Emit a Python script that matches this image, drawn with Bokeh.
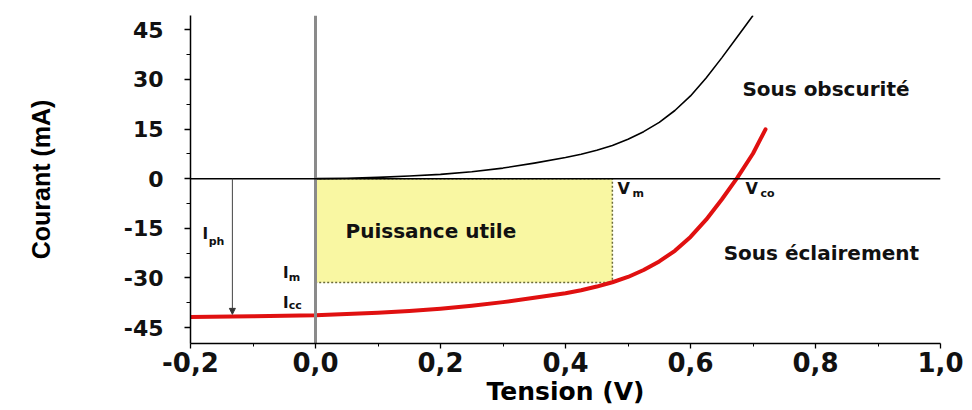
from bokeh.plotting import figure
from bokeh.models import Range1d, FixedTicker, Span, Label, Arrow, NormalHead
from bokeh.embed import file_html
from bokeh.resources import INLINE

# ---- data ----
dark_v = [0.0, 0.05, 0.1, 0.15, 0.2, 0.25, 0.3, 0.35, 0.4, 0.425, 0.45, 0.475, 0.5, 0.525,
          0.55, 0.575, 0.6, 0.625, 0.65, 0.675, 0.7]
dark_i = [0.0, 0.15, 0.4, 0.8, 1.3, 2.1, 3.2, 4.7, 6.4, 7.4, 8.6, 10.0, 11.9, 14.2,
          17.0, 20.6, 25.0, 30.4, 36.5, 42.9, 49.3]

light_v = [-0.2, -0.1, 0.0, 0.05, 0.1, 0.15, 0.2, 0.25, 0.3, 0.35, 0.4, 0.425, 0.45, 0.475,
           0.5, 0.525, 0.55, 0.575, 0.6, 0.625, 0.65, 0.675, 0.7, 0.72]
light_i = [-41.8, -41.6, -41.3, -40.9, -40.5, -40.0, -39.3, -38.4, -37.3, -36.0, -34.6, -33.7,
           -32.6, -31.3, -29.7, -27.6, -25.0, -21.8, -17.6, -12.4, -6.3, 0.3, 7.6, 14.9]

v_m = 0.475      # tension au point de puissance max
i_m = -31.4      # courant au point de puissance max
i_ph = -41.0     # photocourant (fleche)
v_arrow = -0.133

x_ticks = [-0.2, 0.0, 0.2, 0.4, 0.6, 0.8, 1.0]
x_tick_labels = ["-0,2", "0,0", "0,2", "0,4", "0,6", "0,8", "1,0"]
x_minor = [-0.1, 0.1, 0.3, 0.5, 0.7, 0.9]
y_ticks = [-45, -30, -15, 0, 15, 30, 45]
y_tick_labels = ["-45", "-30", "-15", "0", "15", "30", "45"]
y_minor = [-37.5, -22.5, -7.5, 7.5, 22.5, 37.5]

FONT = "DejaVu Sans"

p = figure(width=972, height=410, output_backend="svg", toolbar_location=None,
           x_range=Range1d(-0.2, 1.0), y_range=Range1d(-49.8, 49.3),
           min_border_left=190, min_border_right=32, min_border_top=15, min_border_bottom=67)
p.outline_line_color = None
p.xgrid.visible = False
p.ygrid.visible = False
p.background_fill_color = "white"
p.border_fill_color = "white"

# yellow useful-power rectangle
p.quad(left=0, right=v_m, top=0, bottom=i_m, fill_color="#f9f7a2", line_color="#6b6b3a",
       line_width=1.5, line_dash="2 2")

# gray vertical at V=0 (over the rectangle)
p.add_layout(Span(location=0, dimension="height", line_color="#8a8a8a", line_width=3, level="glyph"))
# horizontal zero line
p.add_layout(Span(location=0, dimension="width", line_color="black", line_width=1.5, level="glyph"))

# curves
p.line(dark_v, dark_i, line_color="black", line_width=1.6, line_join="round")
p.line(light_v, light_i, line_color="#e01010", line_width=4, line_cap="round", line_join="round")

# Iph arrow
p.add_layout(Arrow(end=NormalHead(size=6, fill_color="#333333", line_color="#333333"),
                   x_start=v_arrow, y_start=0, x_end=v_arrow, y_end=i_ph,
                   line_color="#444444", line_width=1))

def lab(x, y, t, size, bold=True):
    p.add_layout(Label(x=x, y=y, text=t, text_font=FONT, text_font_size=f"{size}px",
                       text_font_style="bold" if bold else "normal", text_color="#111111",
                       text_align="left", text_baseline="middle"))

lab(0.048, -15.7, "Puissance utile", 20)
lab(0.683, 27.2, "Sous obscurité", 20)
lab(0.653, -22.4, "Sous éclairement", 20)

lab(-0.181, -16.6, "I", 15)
lab(-0.171, -19.0, "ph", 11)
lab(-0.052, -28.4, "I", 15)
lab(-0.043, -29.9, "m", 11)
lab(-0.052, -37.5, "I", 15)
lab(-0.043, -38.3, "cc", 11)
lab(0.483, -3.0, "V", 16)
lab(0.507, -4.4, "m", 11)
lab(0.688, -3.0, "V", 16)
lab(0.712, -4.4, "co", 11)

# axes
for ax in (p.xaxis[0], p.yaxis[0]):
    ax.axis_line_color = "black"
    ax.axis_line_width = 1.5
    ax.major_tick_line_color = "black"
    ax.minor_tick_line_color = "black"
    ax.major_tick_line_width = 1.3
    ax.major_tick_in = 0
    ax.minor_tick_in = 0
    ax.major_label_text_color = "#111111"
    ax.major_label_text_font = FONT
    ax.major_label_text_font_style = "bold"
    ax.axis_label_text_color = "black"
    ax.axis_label_text_font_style = "bold"

p.xaxis.ticker = FixedTicker(ticks=x_ticks, minor_ticks=x_minor)
p.xaxis.major_label_overrides = {v: s for v, s in zip(x_ticks, x_tick_labels)}
p.xaxis.major_tick_out = 5
p.xaxis.minor_tick_out = 3
p.xaxis.major_label_text_font_size = "26px"
p.xaxis.major_label_standoff = 3
p.xaxis.axis_label = "Tension (V)"
p.xaxis.axis_label_text_font = FONT
p.xaxis.axis_label_text_font_size = "25px"
p.xaxis.axis_label_standoff = 2

p.yaxis.ticker = FixedTicker(ticks=y_ticks, minor_ticks=y_minor)
p.yaxis.major_label_overrides = {v: s for v, s in zip(y_ticks, y_tick_labels)}
p.yaxis.major_tick_out = 6
p.yaxis.minor_tick_out = 4
p.yaxis.major_label_text_font_size = "22px"
p.yaxis.major_label_standoff = 21
p.yaxis.axis_label = "Courant (mA)"
p.yaxis.axis_label_text_font = "Liberation Sans"
p.yaxis.axis_label_text_font_size = "25px"
p.yaxis.axis_label_standoff = 66

open("out.html", "w").write(file_html(p, INLINE))
